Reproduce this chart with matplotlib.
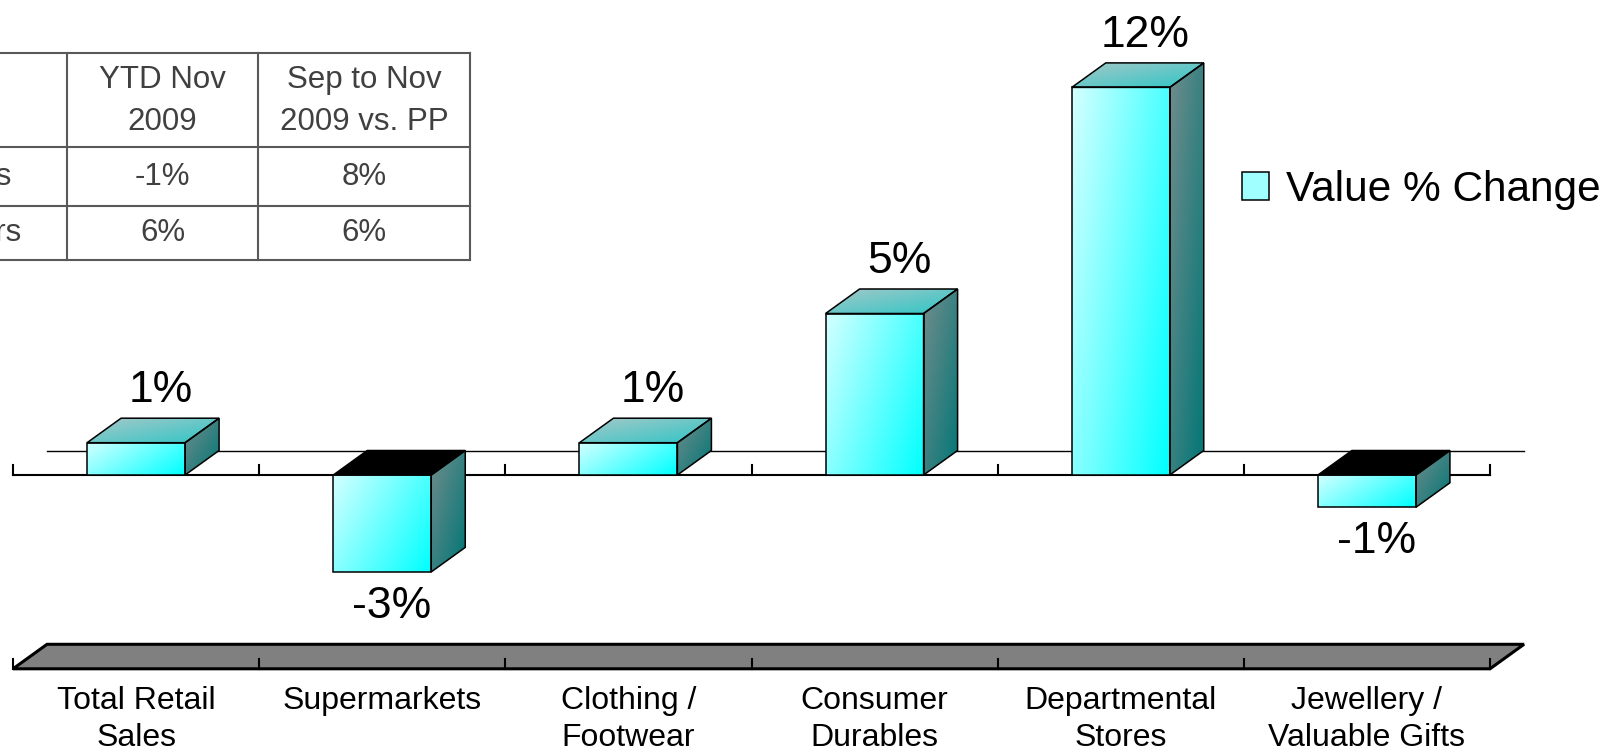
import numpy as np
import matplotlib
matplotlib.use("Agg")
import matplotlib.pyplot as plt
from matplotlib.patches import Polygon, Patch
from matplotlib.colors import LinearSegmentedColormap

plt.rcParams['font.family'] = ['Liberation Sans', 'DejaVu Sans']

# ---- data ----
categories = ["Total Retail\nSales", "Supermarkets", "Clothing /\nFootwear",
              "Consumer\nDurables", "Departmental\nStores", "Jewellery /\nValuable Gifts"]
value_change = [1, -3, 1, 5, 12, -1]
value_labels = ["1%", "-3%", "1%", "5%", "12%", "-1%"]
series_name = "Value % Change"
floor_value = -6

table_header = ["YTD Nov\n2009", "Sep to Nov\n2009 vs. PP"]
table_rows = ["Sales", "Buyers"]      # only the last letters show in the source
table_ytd = ["-1%", "6%"]
table_sep_nov = ["8%", "6%"]

# ---- figure / scales ----
W, H = 1614, 753
fig = plt.figure(figsize=(W / 100, H / 100), dpi=100)
ax = fig.add_axes([0, 0, 1, 1])
ax.axis('off')

cat_px = 246.17      # pixels per category
left_px = 13         # left end of the category axis
unit_px = 32.3       # pixels per 1 %
zero_px = 475        # zero line, from top
xlim = (-0.5 - left_px / cat_px, -0.5 + (W - left_px) / cat_px)
ylim = (-(H - zero_px) / unit_px, zero_px / unit_px)

dx = 34 / cat_px     # 3D depth offset
dy = 24.5 / unit_px
bar_w = 98 / cat_px
tick_len = 10 / unit_px

front_cmap = LinearSegmentedColormap.from_list("front", ["#d4ffff", "#00ffff"])
side_cmap = LinearSegmentedColormap.from_list("side", ["#728c8c", "#007676"])
top_cmap = LinearSegmentedColormap.from_list("top", ["#a8c8c8", "#2ec6c6"])

u = np.linspace(0, 1, 120)[None, :]
v = np.linspace(0, 1, 120)[:, None]


def face(xy, cmap, wu, z):
    xy = np.asarray(xy, dtype=float)
    poly = Polygon(xy, closed=True, facecolor='none', edgecolor='black',
                   lw=1.1, zorder=z + 0.5, joinstyle='miter')
    ax.add_patch(poly)
    g = wu * u + (1 - wu) * v
    im = ax.imshow(g, cmap=cmap, vmin=0, vmax=1, origin='upper', aspect='auto',
                   extent=(xy[:, 0].min(), xy[:, 0].max(), xy[:, 1].min(), xy[:, 1].max()),
                   interpolation='bilinear', zorder=z)
    im.set_clip_path(poly)


# floor
n = len(categories)
a, b = -0.5, n - 0.5
ax.add_patch(Polygon([(a, floor_value), (b, floor_value), (b + dx, floor_value + dy),
                      (a + dx, floor_value + dy)], closed=True, facecolor='#808080',
                     edgecolor='black', lw=2.2, zorder=1))

# axis lines at zero
ax.plot([a + dx, b + dx], [dy, dy], color='black', lw=1.0, zorder=1)
ax.plot([a, b], [0, 0], color='black', lw=1.5, zorder=1.5)
for t in np.arange(a, b + 0.01, 1.0):
    ax.plot([t, t], [0, tick_len], color='black', lw=1.5, zorder=1.5)
    ax.plot([t, t], [floor_value, floor_value + tick_len], color='black', lw=1.5, zorder=1.5)

# bars
for i, val in enumerate(value_change):
    x0, x1 = i - bar_w / 2, i + bar_w / 2
    lo, hi = min(0, val), max(0, val)
    z = 3 + i
    face([(x0, lo), (x1, lo), (x1, hi), (x0, hi)], front_cmap, 0.65, z)
    face([(x1, lo), (x1 + dx, lo + dy), (x1 + dx, hi + dy), (x1, hi)], side_cmap, 0.5, z)
    top = [(x0, hi), (x1, hi), (x1 + dx, hi + dy), (x0 + dx, hi + dy)]
    if val >= 0:
        face(top, top_cmap, 0.5, z)
    else:
        ax.add_patch(Polygon(top, closed=True, facecolor='black', edgecolor='black',
                             lw=1.1, zorder=z + 0.5))

# value labels
for i, (val, lab) in enumerate(zip(value_change, value_labels)):
    if val >= 0:
        ax.annotate(lab, (i + 0.1, val + dy), xytext=(0, 16), textcoords='offset pixels',
                    ha='center', va='baseline', fontsize=32, zorder=20)
    else:
        ax.annotate(lab, (i + 0.04, val), xytext=(0, -14), textcoords='offset pixels',
                    ha='center', va='top', fontsize=32, zorder=20)

# category labels
for i, cat in enumerate(categories):
    ax.annotate(cat, (i, floor_value), xytext=(0, -17), textcoords='offset pixels',
                ha='center', va='top', fontsize=23, linespacing=1.3)

ax.set_xlim(*xlim)
ax.set_ylim(*ylim)

# legend
fig.legend(handles=[Patch(facecolor='#a0ffff', edgecolor='black', lw=1.1, label=series_name)],
           loc='center left', bbox_to_anchor=(1241.7 / W, 1 - 190 / H),
           bbox_transform=fig.transFigure, frameon=False, fontsize=30.5,
           borderpad=0, borderaxespad=0, handlelength=0.65, handleheight=0.65,
           handletextpad=0.4)

# summary table (top left, partly cut off)
tax = fig.add_axes([0, 0, 1, 1], zorder=5)
tax.set_xlim(0, W)
tax.set_ylim(H, 0)
tax.axis('off')
line_c, text_c = '#595959', '#404040'
row_y = [52.7, 147.3, 205.7, 260]
col_x = [-125, 66.7, 258.3, 470]
for y in row_y:
    tax.plot([col_x[0], col_x[-1]], [y, y], color=line_c, lw=1.5)
for x in col_x[1:]:
    tax.plot([x, x], [row_y[0], row_y[-1]], color=line_c, lw=1.5)

cx = [(col_x[k] + col_x[k + 1]) / 2 for k in range(3)]
cy = [(row_y[k] + row_y[k + 1]) / 2 for k in range(3)]
fs_tab = 22.5
for k, head in enumerate(table_header):
    tax.text(cx[k + 1], cy[0] + 1, head, ha='center', va='center', fontsize=fs_tab,
             color=text_c, linespacing=1.5)
for r in range(len(table_rows)):
    tax.text(cx[0] + 2, cy[r + 1], table_rows[r], ha='center', va='center',
             fontsize=fs_tab, color=text_c)
    tax.text(cx[1], cy[r + 1], table_ytd[r], ha='center', va='center', fontsize=fs_tab, color=text_c)
    tax.text(cx[2], cy[r + 1], table_sep_nov[r], ha='center', va='center', fontsize=fs_tab, color=text_c)

fig.savefig("out.png", dpi=100)
